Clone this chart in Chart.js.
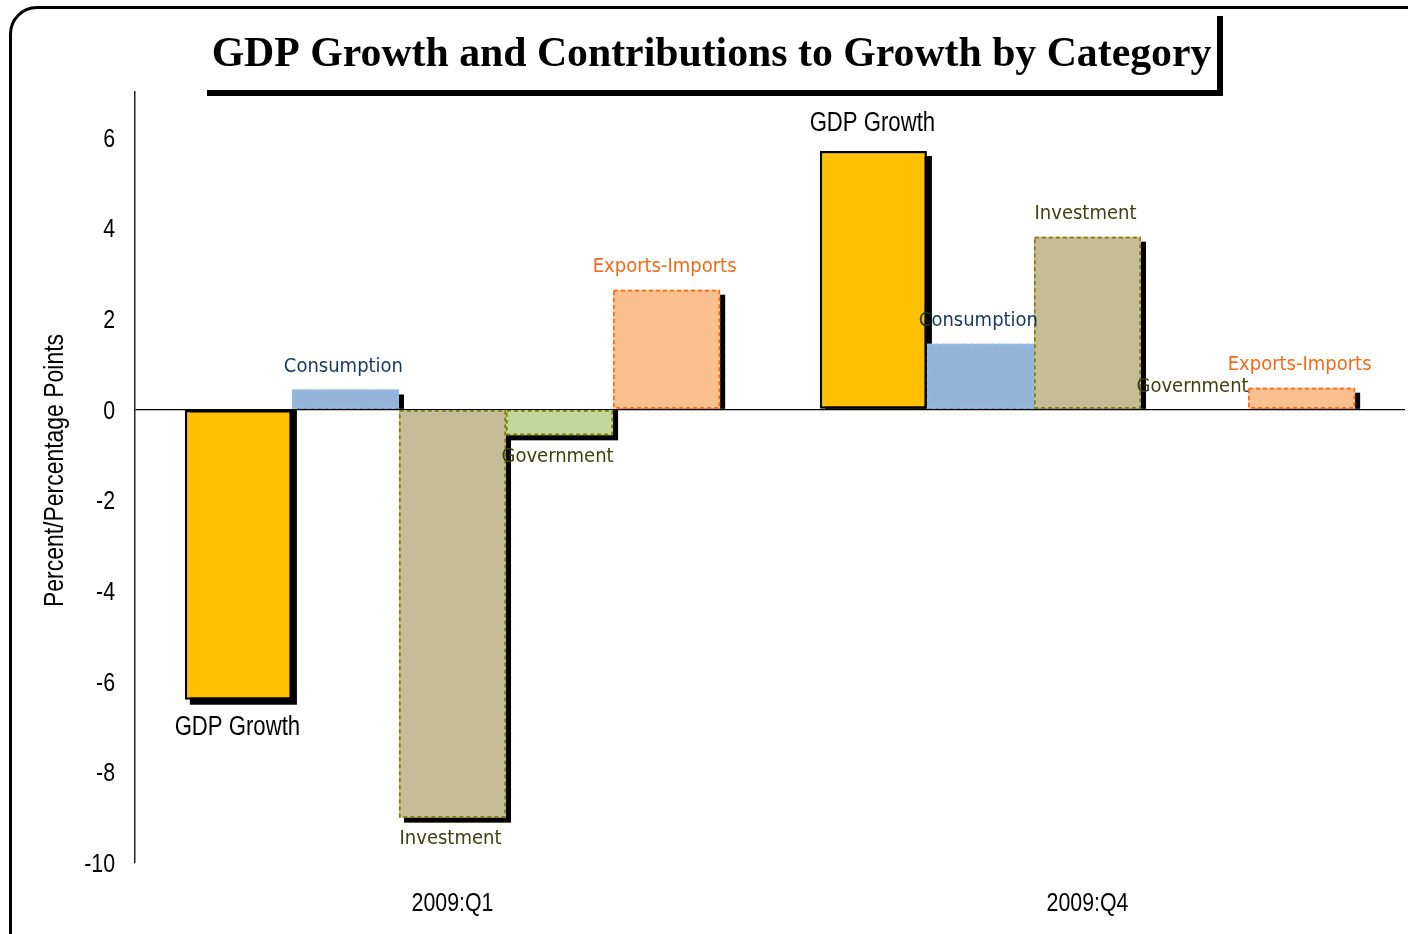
<!DOCTYPE html>
<html>
<head>
<meta charset="utf-8">
<script src="https://cdn.jsdelivr.net/npm/chart.js@4.4.1/dist/chart.umd.min.js"></script>
<style>
  html, body { margin: 0; padding: 0; background: #fff; overflow: hidden; }
  #wrap { position: relative; width: 1408px; height: 934px; overflow: hidden; background: #fff; }
  #c { position: absolute; left: 0; top: 0; }
  #frame {
    position: absolute; left: 9px; top: 6px; width: 1430px; height: 960px;
    border: 3px solid #000; border-radius: 28px; box-sizing: border-box; pointer-events: none;
  }
</style>
</head>
<body>
<div id="wrap">
  <canvas id="c" width="1408" height="934"></canvas>
  <div id="frame"></div>
</div>
<script>
// Quarters and contributions to real GDP growth (percent / percentage points)
const quarters = ['2009:Q1', '2009:Q4'];
const seriesNames = ['GDP Growth', 'Consumption', 'Investment', 'Government', 'Exports-Imports'];
const gdpGrowth = [-6.4, 5.7];
const consumption = [0.44, 1.45];
const investment = [-9.0, 3.81];
const government = [-0.57, 0.0];
const exportsImports = [2.64, 0.48];
const yTickValues = [-10, -8, -6, -4, -2, 0, 2, 4, 6];
const chartTitle = 'GDP Growth and Contributions to Growth by Category';
const yAxisTitle = 'Percent/Percentage Points';

// Styling per series
const fills = ['#FFC000', '#95B3D7', '#C4BD97', '#C3D69B', '#FAC090'];
const dashColors = [null, '#8DC0F0', '#808000', '#808000', '#FF6A10'];
const labelColors = ['#000000', '#17375E', '#3F3F10', '#3F3F10', '#F26B1D'];

const SANS = "'Liberation Sans', Arimo, Arial, sans-serif";
const LABEL = "'DejaVu Sans Condensed', 'DejaVu Sans', sans-serif";
const SERIF = "'Liberation Serif', 'DejaVu Serif', serif";
const NARROW_SCALE = 0.82;

const seriesValues = [gdpGrowth, consumption, investment, government, exportsImports];

const datasets = seriesNames.map((name, i) => ({
  label: name,
  data: seriesValues[i],
  backgroundColor: fills[i],
  borderColor: '#000',
  borderWidth: i === 0 ? 2.5 : 0,
  borderSkipped: false,
  barPercentage: 1.0,
  categoryPercentage: 0.843
}));

// Condensed sans text: regular sans squeezed along its baseline
function narrowText(ctx, text, x, y, size, align, rotated) {
  ctx.save();
  ctx.translate(x, y);
  if (rotated) ctx.rotate(-Math.PI / 2);
  ctx.scale(NARROW_SCALE, 1);
  ctx.font = `${size}px ${SANS}`;
  ctx.textAlign = align;
  ctx.textBaseline = 'middle';
  ctx.fillText(text, 0, 0);
  ctx.restore();
}

function barBox(el) {
  const p = el.getProps(['x', 'y', 'base', 'width'], true);
  const left = p.x - p.width / 2;
  return {
    left, right: left + p.width, width: p.width, x: p.x,
    top: Math.min(p.y, p.base), bottom: Math.max(p.y, p.base),
    base: p.base, positive: p.y <= p.base
  };
}

const barDecor = {
  id: 'barDecor',
  // black drop shadow behind every bar
  beforeDatasetsDraw(chart) {
    const ctx = chart.ctx;
    ctx.save();
    ctx.fillStyle = '#000';
    const off = 5;
    chart.data.datasets.forEach((ds, i) => {
      chart.getDatasetMeta(i).data.forEach(el => {
        const b = barBox(el);
        if (b.bottom - b.top < 1) return;
        if (b.positive) {
          ctx.fillRect(b.left + off, b.top + off, b.width, b.base - (b.top + off));
        } else {
          ctx.fillRect(b.left + off, b.base, b.width, b.bottom + off - b.base);
        }
      });
    });
    ctx.restore();
  },
  afterDatasetsDraw(chart) {
    const ctx = chart.ctx;
    ctx.save();
    // dashed outlines of the contribution bars
    chart.data.datasets.forEach((ds, i) => {
      if (!dashColors[i]) return;
      chart.getDatasetMeta(i).data.forEach(el => {
        const b = barBox(el);
        if (b.bottom - b.top < 1) return;
        ctx.strokeStyle = dashColors[i];
        ctx.lineWidth = 1.7;
        ctx.setLineDash([4, 3]);
        ctx.strokeRect(b.left + 0.85, b.top + 0.85, b.width - 1.7, b.bottom - b.top - 1.7);
      });
    });
    ctx.setLineDash([]);
    // series names beyond the bar ends
    chart.data.datasets.forEach((ds, i) => {
      const isGdp = i === 0;
      ctx.fillStyle = labelColors[i];
      chart.getDatasetMeta(i).data.forEach(el => {
        const b = barBox(el);
        if (isGdp) {
          const y = b.positive ? b.top - 27 : b.bottom + 28;
          narrowText(ctx, ds.label, b.x - 1, y, 27, 'center', false);
        } else {
          const y = b.positive ? b.top - 23 : b.bottom + 21;
          ctx.font = `20px ${LABEL}`;
          ctx.textAlign = 'center';
          ctx.textBaseline = 'middle';
          ctx.fillText(ds.label, b.x - 2, y);
        }
      });
    });
    ctx.restore();
  },
  afterDraw(chart) {
    const ctx = chart.ctx;
    const { x: xs, y: ys } = chart.scales;
    const area = chart.chartArea;
    ctx.save();
    ctx.fillStyle = '#000';
    // value axis tick labels
    yTickValues.forEach(v => {
      narrowText(ctx, String(v), 115, ys.getPixelForValue(v) + 2, 26, 'right', false);
    });
    // value axis title
    narrowText(ctx, yAxisTitle, 55, (area.top + area.bottom) / 2 - 7, 28, 'center', true);
    // quarter labels
    quarters.forEach((q, i) => {
      narrowText(ctx, q, xs.getPixelForValue(i), 904, 26, 'center', false);
    });
    // chart title, sized to fill its box
    let size = 40;
    ctx.font = `bold ${size}px ${SERIF}`;
    const w = ctx.measureText(chartTitle).width;
    size = size * 1000 / w;
    ctx.font = `bold ${size}px ${SERIF}`;
    ctx.textAlign = 'center';
    ctx.textBaseline = 'alphabetic';
    ctx.fillText(chartTitle, 711.5, 66);
    // title box shadow edges
    ctx.fillRect(207, 90, 1016, 6);
    ctx.fillRect(1217, 16, 6, 80);
    ctx.restore();
  }
};

new Chart(document.getElementById('c'), {
  type: 'bar',
  data: { labels: quarters, datasets },
  plugins: [barDecor],
  options: {
    responsive: false,
    animation: false,
    devicePixelRatio: 1,
    layout: { padding: { top: 92, right: 3, left: 0, bottom: 0 } },
    plugins: {
      legend: { display: false },
      title: { display: false },
      tooltip: { enabled: false }
    },
    scales: {
      x: {
        grid: { display: false },
        border: { display: false },
        ticks: { display: false },
        afterFit(scale) { scale.height = 71; }
      },
      y: {
        min: -10,
        max: 7,
        afterBuildTicks(scale) { scale.ticks = yTickValues.map(v => ({ value: v })); },
        grid: {
          drawTicks: false,
          color: ctx => (ctx.tick && ctx.tick.value === 0 ? '#000' : 'rgba(0,0,0,0)'),
          lineWidth: 1.3
        },
        border: { display: true, color: '#222', width: 1.5 },
        ticks: { display: false },
        title: { display: false },
        afterFit(scale) { scale.width = 135; }
      }
    }
  }
});
</script>
</body>
</html>
